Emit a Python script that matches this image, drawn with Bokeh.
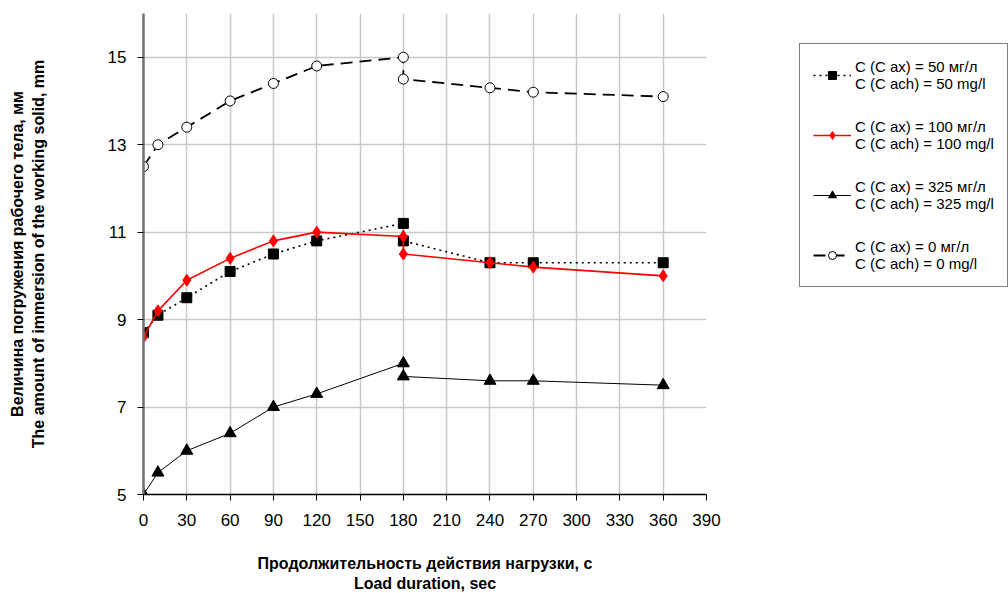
from bokeh.plotting import figure
from bokeh.models import Legend, LegendItem, FixedTicker, Range1d
from bokeh.embed import file_html
from bokeh.resources import INLINE

# Data (load duration in seconds; immersion depth in mm)
x_vals = [0, 10, 30, 60, 90, 120, 180, 180, 240, 270, 360]
y_50 = [8.7, 9.1, 9.5, 10.1, 10.5, 10.8, 11.2, 10.8, 10.3, 10.3, 10.3]
y_100 = [8.6, 9.2, 9.9, 10.4, 10.8, 11.0, 10.9, 10.5, 10.3, 10.2, 10.0]
y_325 = [5.0, 5.5, 6.0, 6.4, 7.0, 7.3, 8.0, 7.7, 7.6, 7.6, 7.5]
y_0 = [12.5, 13.0, 13.4, 14.0, 14.4, 14.8, 15.0, 14.5, 14.3, 14.2, 14.1]

x_ticks = [0, 30, 60, 90, 120, 150, 180, 210, 240, 270, 300, 330, 360, 390]
y_ticks = [5, 7, 9, 11, 13, 15]

labels = [
    "C (C ax) = 50 мг/л\nC (C ach) = 50 mg/l",
    "C (C ax) = 100 мг/л\nC (C ach) = 100 mg/l",
    "C (C ax) = 325 мг/л\nC (C ach) = 325 mg/l",
    "C (C ax) = 0 мг/л\nC (C ach) = 0 mg/l",
]

FONT = "Liberation Sans"

p = figure(frame_width=563, frame_height=481, output_backend="svg", toolbar_location=None,
           x_range=Range1d(0, 390), y_range=Range1d(5, 16),
           min_border_left=143, min_border_right=0, min_border_top=13,
           min_border_bottom=99)
p.outline_line_color = None
p.background_fill_color = "white"
p.border_fill_color = "white"

# grids
p.xgrid.ticker = FixedTicker(ticks=x_ticks)
p.ygrid.ticker = FixedTicker(ticks=y_ticks)
p.xgrid.grid_line_color = "#c8c8c8"
p.ygrid.grid_line_color = "#c8c8c8"
p.xgrid.grid_line_width = 1.5
p.ygrid.grid_line_width = 1.5

# axes
p.xaxis.ticker = FixedTicker(ticks=x_ticks)
p.yaxis.ticker = FixedTicker(ticks=y_ticks)
for ax in (p.xaxis[0], p.yaxis[0]):
    ax.major_label_text_font = FONT
    ax.major_label_text_color = "black"
    ax.minor_tick_line_color = None
    ax.major_tick_in = 0
    ax.major_tick_out = 6
    ax.major_tick_line_color = "black"
    ax.axis_label_text_font = FONT
    ax.axis_label_text_font_style = "bold"
    ax.axis_label_text_color = "black"
p.xaxis.major_label_text_font_size = "17px"
p.yaxis.major_label_text_font_size = "17px"
p.xaxis.axis_label_text_font_size = "16px"
p.yaxis.axis_label_text_font_size = "16px"
p.xaxis.axis_line_color = "black"
p.xaxis.axis_line_width = 1.5
p.yaxis.axis_line_color = "#707070"
p.yaxis.axis_line_width = 2.5
p.xaxis.major_label_standoff = 13
p.yaxis.major_label_standoff = 11
p.xaxis.axis_label = "Продолжительность действия нагрузки, с\nLoad duration, sec"
p.yaxis.axis_label = "Величина погружения рабочего тела, мм\nThe amount of immersion of the working solid, mm"
p.xaxis.axis_label_standoff = 26
p.yaxis.axis_label_standoff = 58

# series
l50 = p.line(x_vals, y_50, line_color="black", line_width=1.6, line_dash="2 4")
m50 = p.scatter(x_vals, y_50, marker="square", size=10, fill_color="black", line_color="black")

l100 = p.line(x_vals, y_100, line_color="#ff0000", line_width=1.6)
m100 = p.scatter(x_vals, y_100, marker="diamond", size=12, fill_color="#ff0000", line_color="#ff0000")

l325 = p.line(x_vals, y_325, line_color="black", line_width=1)
m325 = p.scatter(x_vals, y_325, marker="triangle", size=12, fill_color="black", line_color="black")

l0 = p.line(x_vals, y_0, line_color="black", line_width=1.8, line_dash="12 7")
m0 = p.scatter(x_vals, y_0, marker="circle", size=10, fill_color="white", line_color="black", line_width=1)

legend = Legend(items=[
    LegendItem(label=labels[0], renderers=[l50, m50]),
    LegendItem(label=labels[1], renderers=[l100, m100]),
    LegendItem(label=labels[2], renderers=[l325, m325]),
    LegendItem(label=labels[3], renderers=[l0, m0]),
], location=(93, 207))
legend.label_text_font = FONT
legend.label_text_font_size = "15px"
legend.label_text_color = "black"
legend.border_line_color = "black"
legend.border_line_width = 1
legend.background_fill_alpha = 1
legend.spacing = 24
legend.padding = 13
legend.margin = 45
legend.glyph_width = 38
legend.label_standoff = 4
legend.label_height = 36
legend.glyph_height = 20
p.add_layout(legend, "right")

open("out.html", "w").write(file_html(p, INLINE))
